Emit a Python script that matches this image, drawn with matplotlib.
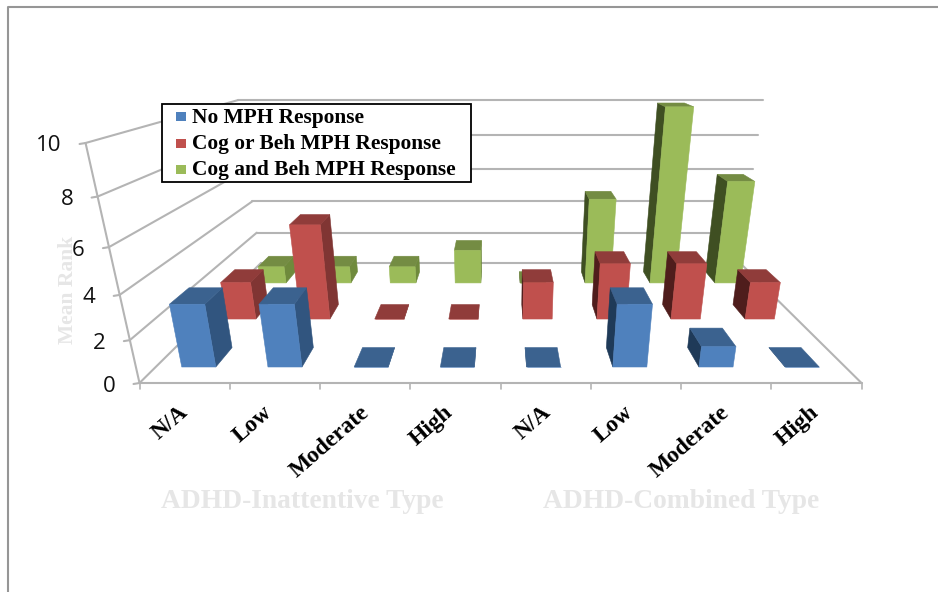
import matplotlib
matplotlib.use("agg")
import matplotlib.pyplot as plt
from matplotlib.patches import Polygon, Rectangle

categories = ["N/A", "Low", "Moderate", "High", "N/A", "Low", "Moderate", "High"]
groups = ["ADHD-Inattentive Type", "ADHD-Combined Type"]
series_names = ["No MPH Response", "Cog or Beh MPH Response", "Cog and Beh MPH Response"]
no_response = [3, 3, 0, 0, 0, 3, 1, 0]
one_response = [2, 5, 0, 0, 2, 3, 3, 2]
both_response = [1, 1, 1, 2, 0, 5, 10, 6]
z_ticks = [0, 2, 4, 6, 8, 10]

# front, top, side lit from the right, side in shadow
blue = ["#4f81bd", "#3b628f", "#31557f", "#1f3a58"]
red = ["#c0504d", "#903c3a", "#803533", "#4f1d1c"]
green = ["#9bbb59", "#748c43", "#6f8a3c", "#3f4f22"]
grid_col = "#b4b4b4"

# sideways nudge of each slanted category label, in pixels
label_nudge = [0, -6, 0, -6, 2, -6, -1, -1]

# perspective camera in pixels, u runs -1..1 along the floor, t 0..1 into the depth
CX = 500.5
HALF = 361.0


def project(u, t, z):
    w = 1 + 0.507 * t - 0.013 * z
    return CX + HALF * u / w, (383 + 13.3 * t - 25.86 * z) / w


def cat_u(i):
    return -1 + 2 * i / len(categories)


fig = plt.figure(figsize=(9.38, 5.92), dpi=100)
ax = fig.add_axes([0, 0, 1, 1])
ax.set_xlim(0, 938)
ax.set_ylim(592, 0)
ax.axis("off")

# chart area border
ax.plot([8, 8, 938], [592, 7, 7], color="#969696", lw=1.5)


def line(p, q, lw=1.5):
    ax.plot([p[0], q[0]], [p[1], q[1]], color=grid_col, lw=lw, solid_capstyle="round", zorder=1)


# walls and floor
for z in z_ticks:
    line(project(-1, 0, z), project(-1, 1, z))
    line(project(-1, 1, z), project(1, 1, z))
    x, y = project(-1, 0, z)
    line((x - 6, y + 1), (x, y))
    ax.text(x - 24, y + 3, str(z), ha="right", va="center", fontsize=16, family="Open Sans", color="#111111")
line(project(-1, 0, 0), project(-1, 0, 10))
line(project(-1, 0, 0), project(1, 0, 0))
line(project(1, 0, 0), project(1, 1, 0))
for i in range(len(categories) + 1):
    x, y = project(cat_u(i), 0, 0)
    line((x, y), (x, y + 6), lw=1.2)


def draw_bar(i, t0, t1, value, cols, order):
    frac = 0.395
    step = 2 / len(categories)
    u0 = cat_u(i) + step * (1 - frac) / 2
    u1 = u0 + step * frac
    quad = lambda pts: [project(*p) for p in pts]
    front = quad([(u0, t0, 0), (u1, t0, 0), (u1, t0, value), (u0, t0, value)])
    top = quad([(u0, t0, value), (u1, t0, value), (u1, t1, value), (u0, t1, value)])
    # which side shows depends on where the bar sits against the camera centre
    if u1 < 0:
        side = quad([(u1, t0, 0), (u1, t1, 0), (u1, t1, value), (u1, t0, value)])
        side_col = cols[2]
    else:
        side = quad([(u0, t0, 0), (u0, t1, 0), (u0, t1, value), (u0, t0, value)])
        side_col = cols[3]
    for pts, col in [(side, side_col), (top, cols[1]), (front, cols[0])]:
        ax.add_patch(Polygon(pts, closed=True, facecolor=col, edgecolor=col, lw=0.4, zorder=order))


rows = [(both_response, green, 0.769), (one_response, red, 0.431), (no_response, blue, 0.0926)]
order = 2
for values, cols, t0 in rows:
    # outer bars first so the ones near the middle stay on top
    for i in sorted(range(len(values)), key=lambda k: -abs(cat_u(k) + 1 / len(categories))):
        draw_bar(i, t0, t0 + 0.125, values[i], cols, order)
        order += 1

# legend box
ax.add_patch(Rectangle((162, 104), 309, 77.5, facecolor="white", edgecolor="black", lw=1.3, zorder=100))
for k, name in enumerate(series_names):
    y = 116.5 + k * 26.5
    ax.add_patch(Rectangle((176, y - 4.5), 10, 9, facecolor=[blue, red, green][k][0], edgecolor="none", zorder=101))
    ax.text(192, y + 1, name, ha="left", va="center", fontsize=15.4, family="Liberation Serif", weight="bold", zorder=101)

for i, name in enumerate(categories):
    x, _ = project(cat_u(i) + 1 / len(categories), 0, 0)
    ax.text(x - 6 + label_nudge[i], 402, name, rotation=41, rotation_mode="anchor", ha="right", va="top",
            fontsize=16.8, family="Liberation Serif", weight="bold")

ax.text(68, 290, "Mean Rank", rotation=90, ha="center", va="center", fontsize=15.5,
        family="Liberation Serif", weight="bold", color="#e6e6e6")
for cx, name in zip([302, 681], groups):
    ax.text(cx, 502, name, ha="center", va="center", fontsize=19.8, family="Liberation Serif",
            weight="bold", color="#e6e6e6")

fig.savefig("out.png", dpi=100)
